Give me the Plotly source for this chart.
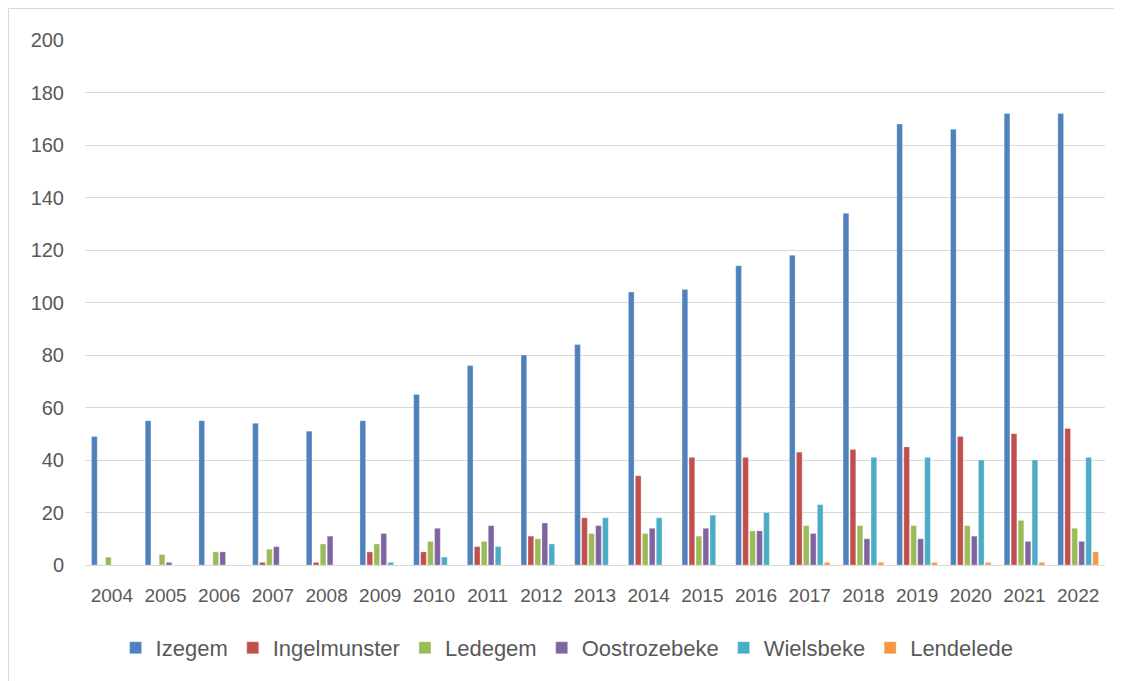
import plotly.graph_objects as go

years = [str(y) for y in range(2004, 2023)]
izegem = [49, 55, 55, 54, 51, 55, 65, 76, 80, 84, 104, 105, 114, 118, 134, 168, 166, 172, 172]
ingelmunster = [0, 0, 0, 1, 1, 5, 5, 7, 11, 18, 34, 41, 41, 43, 44, 45, 49, 50, 52]
ledegem = [3, 4, 5, 6, 8, 8, 9, 9, 10, 12, 12, 11, 13, 15, 15, 15, 15, 17, 14]
oostrozebeke = [0, 1, 5, 7, 11, 12, 14, 15, 16, 15, 14, 14, 13, 12, 10, 10, 11, 9, 9]
wielsbeke = [0, 0, 0, 0, 0, 1, 3, 7, 8, 18, 18, 19, 20, 23, 41, 41, 40, 40, 41]
lendelede = [0, 0, 0, 0, 0, 0, 0, 0, 0, 0, 0, 0, 0, 1, 1, 1, 1, 1, 5]

series = [
    ("Izegem", izegem, "#4F81BD"),
    ("Ingelmunster", ingelmunster, "#C0504D"),
    ("Ledegem", ledegem, "#9BBB59"),
    ("Oostrozebeke", oostrozebeke, "#8064A2"),
    ("Wielsbeke", wielsbeke, "#4BACC6"),
    ("Lendelede", lendelede, "#F79646"),
]

fig = go.Figure()
for name, vals, col in series:
    fig.add_trace(go.Bar(
        x=years, y=vals, name=name,
        marker=dict(color=col, line=dict(color="rgba(255,255,255,0.6)", width=0.5)),
    ))

font = "Liberation Sans, Arial, sans-serif"
# page body has an 8px offset; plot area targeted at x 85..1105, y 40..565
fig.update_layout(
    width=1122, height=681,
    margin=dict(l=77, r=25, t=32, b=124, autoexpand=False),
    paper_bgcolor="white", plot_bgcolor="white",
    barmode="group", bargap=0.22, bargroupgap=0.18,
    font=dict(family=font, size=18, color="#595959"),
    showlegend=True,
    legend=dict(orientation="h", x=0.03, xanchor="left", y=-0.118, yanchor="top",
                font=dict(size=22, color="#595959"), itemwidth=30, traceorder="normal"),
    xaxis=dict(type="category", showgrid=False, showline=True, linecolor="#d9d9d9",
               linewidth=1, ticks="", ticklabelstandoff=13,
               tickfont=dict(size=19, color="#595959")),
    yaxis=dict(range=[0, 200], dtick=20, showgrid=True, gridcolor="#d9d9d9", gridwidth=1,
               zeroline=False, showline=False, ticks="", ticklabelstandoff=20,
               tickfont=dict(size=20, color="#595959")),
    shapes=[dict(type="rect", xref="paper", yref="paper",
                 x0=(8.5 - 85) / 1020, x1=(1116 - 85) / 1020,
                 y0=(565 - 690) / 525, y1=(565 - 8.5) / 525,
                 line=dict(color="#d9d9d9", width=1), fillcolor="rgba(0,0,0,0)", layer="below")],
)
fig.write_html("out.html")
